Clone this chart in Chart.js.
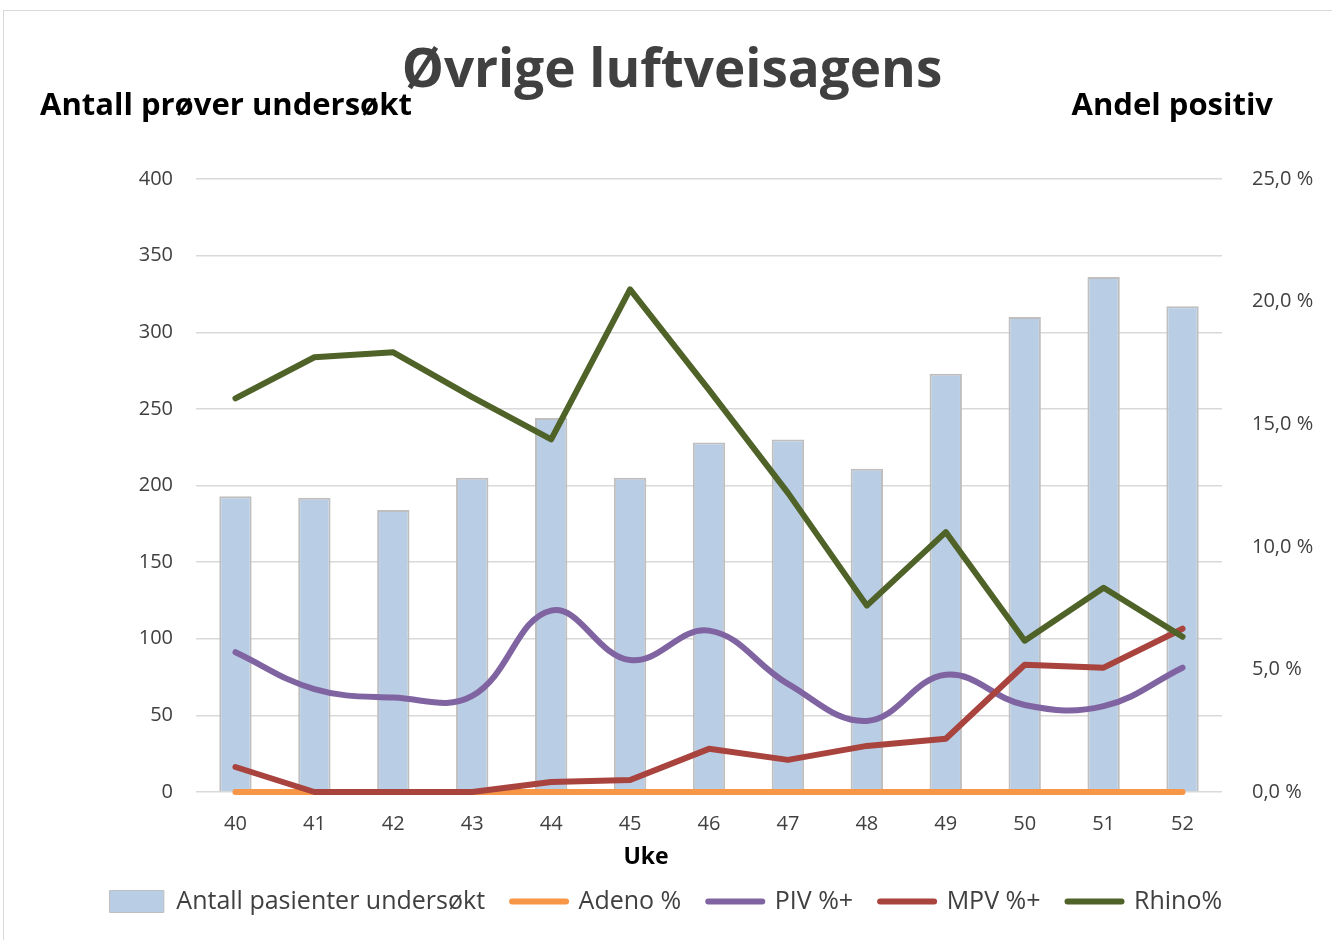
<!DOCTYPE html>
<html>
<head>
<meta charset="utf-8">
<script src="https://cdn.jsdelivr.net/npm/chart.js@4"></script>
<style>
  html, body { margin: 0; padding: 0; background: #fff; }
  #wrap { position: relative; width: 1332px; height: 940px; overflow: hidden; }
  #frame { position: absolute; left: 3px; top: 10px; width: 1340px; height: 940px; border: 1px solid #d9d9d9; pointer-events: none; }
</style>
</head>
<body>
<div id="wrap">
  <canvas id="chart" width="1332" height="940"></canvas>
  <div id="frame"></div>
</div>
<script>
// --- data ---
const weeks = ['40', '41', '42', '43', '44', '45', '46', '47', '48', '49', '50', '51', '52'];
const antall = [193, 192, 184, 205, 244, 205, 228, 230, 211, 273, 310, 336, 317];
const adeno = [0, 0, 0, 0, 0, 0, 0, 0, 0, 0, 0, 0, 0];
const piv = [5.7, 4.2, 3.85, 3.92, 7.4, 5.38, 6.58, 4.41, 2.9, 4.78, 3.55, 3.5, 5.07];
const mpv = [1.02, 0, 0, 0, 0.41, 0.49, 1.76, 1.31, 1.88, 2.17, 5.19, 5.07, 6.66];
const rhino = [16.05, 17.73, 17.93, 16.1, 14.38, 20.5, 16.4, 12.2, 7.6, 10.6, 6.17, 8.33, 6.33];
const leftTicks = [0, 50, 100, 150, 200, 250, 300, 350, 400];
const rightTicks = [0, 5, 10, 15, 20, 25];

const FONT = '"Open Sans", "Liberation Sans", sans-serif';
const TXT = '#404040';

// --- header texts (title, axis headings, x title) ---
const headerPlugin = {
    id: 'header',
    afterDraw(chart) {
        const ctx = chart.ctx;
        ctx.save();
        ctx.textBaseline = 'middle';
        ctx.fillStyle = TXT;
        ctx.font = 'bold 53px ' + FONT;
        ctx.textAlign = 'center';
        ctx.fillText('Øvrige luftveisagens', 672, 72);
        ctx.fillStyle = '#000';
        ctx.font = 'bold 31px ' + FONT;
        ctx.textAlign = 'left';
        ctx.fillText('Antall prøver undersøkt', 40, 106);
        ctx.textAlign = 'right';
        ctx.fillText('Andel positiv', 1273, 106);
        ctx.font = 'bold 23px ' + FONT;
        ctx.textAlign = 'center';
        ctx.fillText('Uke', 646, 857);
        ctx.restore();
    }
};

const lineSet = (label, data, color, order, tension) => ({
    type: 'line',
    label: label,
    data: data,
    yAxisID: 'y2',
    borderColor: color,
    backgroundColor: color,
    borderWidth: 6,
    pointRadius: 0,
    tension: tension,
    borderCapStyle: 'round',
    borderJoinStyle: 'round',
    clip: false,
    order: order
});

new Chart(document.getElementById('chart').getContext('2d'), {
    data: {
        labels: weeks,
        datasets: [
            {
                type: 'bar',
                label: 'Antall pasienter undersøkt',
                data: antall,
                yAxisID: 'y',
                backgroundColor: '#b9cde5',
                borderColor: '#bfbfbf',
                borderWidth: { top: 2, left: 2, right: 2, bottom: 0 },
                barPercentage: 0.41,
                categoryPercentage: 1,
                order: 10
            },
            lineSet('Adeno %', adeno, '#f79646', 4, 0),
            lineSet('PIV %+', piv, '#8064a2', 3, 0.4),
            lineSet('MPV %+', mpv, '#a9433e', 2, 0),
            lineSet('Rhino%', rhino, '#4f6228', 1, 0)
        ]
    },
    options: {
        responsive: false,
        animation: false,
        layout: { padding: { top: 179, left: 0, right: 0, bottom: 16 } },
        plugins: {
            title: { display: false },
            tooltip: { enabled: false },
            legend: {
                position: 'bottom',
                labels: {
                    usePointStyle: true,
                    pointStyleWidth: 54,
                    boxHeight: 22,
                    padding: 27,
                    color: TXT,
                    font: { family: FONT, size: 25 },
                    sort: (a, b) => a.datasetIndex - b.datasetIndex,
                    generateLabels: chart => chart.data.datasets.map((ds, i) => ({
                        text: ds.label,
                        datasetIndex: i,
                        pointStyle: ds.type === 'bar' ? 'rect' : 'line',
                        fillStyle: ds.backgroundColor,
                        strokeStyle: ds.borderColor,
                        lineWidth: ds.type === 'bar' ? 1 : 6,
                        lineCap: 'round',
                        fontColor: TXT
                    }))
                }
            }
        },
        scales: {
            x: {
                grid: { display: false },
                border: { display: false },
                ticks: { color: TXT, font: { family: FONT, size: 20 }, padding: 12 },
                afterFit: s => { s.height = 70; }
            },
            y: {
                position: 'left',
                min: 0,
                max: 400,
                afterBuildTicks: s => { s.ticks = leftTicks.map(v => ({ value: v })); },
                grid: { color: '#d9d9d9', lineWidth: 1.5, drawTicks: false },
                border: { display: false },
                ticks: { color: TXT, font: { family: FONT, size: 20 }, padding: 23 },
                afterFit: s => { s.width = 196; }
            },
            y2: {
                position: 'right',
                min: 0,
                max: 25,
                afterBuildTicks: s => { s.ticks = rightTicks.map(v => ({ value: v })); },
                grid: { display: false },
                border: { display: false },
                ticks: {
                    color: TXT,
                    font: { family: FONT, size: 20 },
                    padding: 22,
                    callback: v => v.toFixed(1).replace('.', ',') + ' %'
                },
                afterFit: s => { s.width = 110; }
            }
        }
    },
    plugins: [headerPlugin]
});
</script>
</body>
</html>
